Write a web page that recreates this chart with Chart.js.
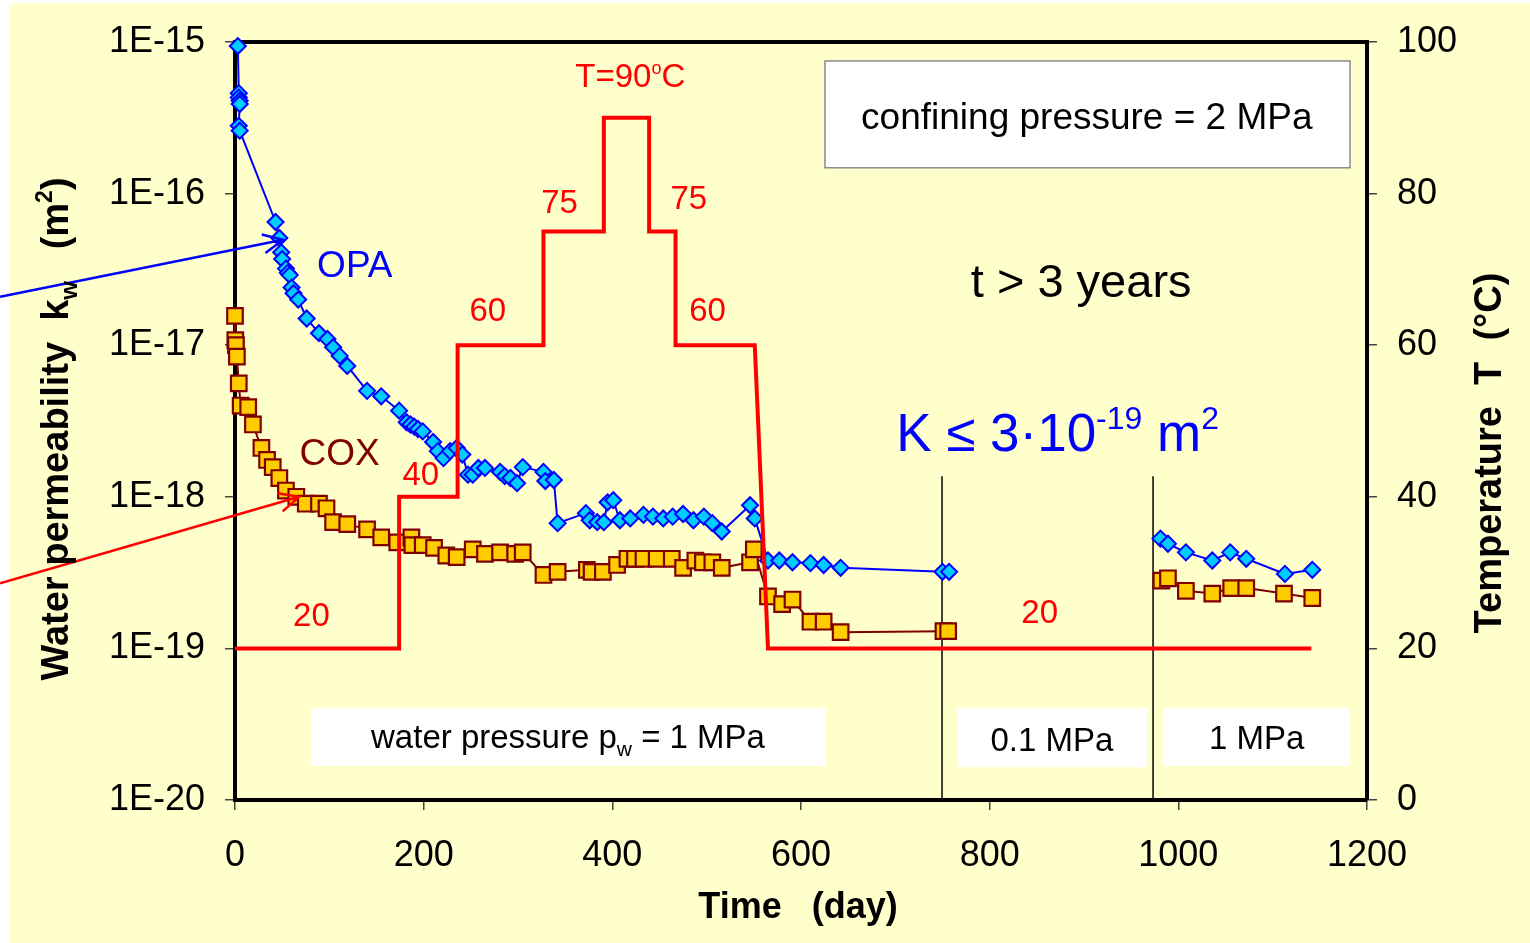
<!DOCTYPE html>
<html>
<head>
<meta charset="utf-8">
<script src="https://cdn.jsdelivr.net/npm/chart.js@4.4.1/dist/chart.umd.min.js"></script>
<style>
  html, body { margin: 0; padding: 0; background: #ffffff; }
  #wrap { width: 1530px; height: 943px; }
</style>
</head>
<body>
<div id="wrap"><canvas id="chart" width="1530" height="943"></canvas></div>
<script>
// Water permeability of OPA and COX samples over time, with the temperature history
const opaDays = [
  3, 4, 4, 5, 5, 4, 5, 43, 47, 49,
  50, 54, 56, 58, 60, 62, 67, 76, 89, 98,
  104, 111, 119, 140, 155, 174, 182, 186, 190, 194,
  199, 210, 215, 221, 228, 235, 241, 247, 252, 258,
  265, 281, 286, 292, 299, 305, 327, 329, 338, 342,
  372, 376, 384, 391, 395, 401, 408, 419, 433, 443,
  454, 464, 475, 486, 497, 506, 516, 546, 551, 565,
  577, 591, 610, 624, 642, 750, 757, 870, 981, 989,
  1008, 1036, 1055, 1072, 1113, 1142,
];
const opaPermeability = [
  9.4e-16, 4.6e-16, 4.3e-16, 4.1e-16, 3.9e-16, 2.8e-16, 2.6e-16, 6.5e-17, 5.1e-17, 4.1e-17,
  3.7e-17, 3.2e-17, 3.0e-17, 2.9e-17, 2.4e-17, 2.2e-17, 2.0e-17, 1.5e-17, 1.2e-17, 1.1e-17,
  9.7e-18, 8.5e-18, 7.3e-18, 5.0e-18, 4.6e-18, 3.7e-18, 3.1e-18, 3.0e-18, 2.9e-18, 2.8e-18,
  2.7e-18, 2.3e-18, 2.0e-18, 1.8e-18, 2.0e-18, 2.1e-18, 1.9e-18, 1.4e-18, 1.4e-18, 1.55e-18,
  1.55e-18, 1.46e-18, 1.37e-18, 1.33e-18, 1.23e-18, 1.57e-18, 1.46e-18, 1.27e-18, 1.29e-18, 6.7e-19,
  7.8e-19, 7.0e-19, 6.8e-19, 6.8e-19, 9.2e-19, 9.5e-19, 7.0e-19, 7.2e-19, 7.6e-19, 7.4e-19,
  7.2e-19, 7.4e-19, 7.7e-19, 7.0e-19, 7.4e-19, 6.7e-19, 5.9e-19, 8.8e-19, 7.2e-19, 3.8e-19,
  3.8e-19, 3.7e-19, 3.65e-19, 3.55e-19, 3.4e-19, 3.2e-19, 3.2e-19, null, 5.3e-19, 4.9e-19,
  4.3e-19, 3.8e-19, 4.3e-19, 3.9e-19, 3.1e-19, 3.3e-19,
];

const coxDays = [
  0, 0.3, 1, 2, 4, 6, 14, 19, 28, 34,
  40, 47, 54, 65, 75, 89, 97, 104, 119, 140,
  155, 172, 187, 188, 199, 211, 224, 235, 252, 265,
  281, 297, 305, 327, 342, 373, 378, 390, 405, 416,
  424, 433, 447, 463, 475, 488, 496, 506, 516, 546,
  550, 565, 580, 591, 610, 624, 642, 751, 756, 870,
  982, 989, 1008, 1036, 1056, 1072, 1112, 1142,
];
const coxPermeability = [
  1.56e-17, 1.08e-17, 1.0e-17, 8.4e-18, 5.6e-18, 4.0e-18, 3.9e-18, 3.0e-18, 2.1e-18, 1.75e-18,
  1.57e-18, 1.33e-18, 1.1e-18, 1.0e-18, 9.0e-19, 9.0e-19, 8.4e-19, 6.8e-19, 6.6e-19, 6.1e-19,
  5.4e-19, 5.0e-19, 5.4e-19, 4.8e-19, 4.8e-19, 4.6e-19, 4.1e-19, 4.0e-19, 4.5e-19, 4.2e-19,
  4.3e-19, 4.2e-19, 4.3e-19, 3.05e-19, 3.2e-19, 3.3e-19, 3.2e-19, 3.2e-19, 3.55e-19, 3.9e-19,
  3.9e-19, 3.9e-19, 3.9e-19, 3.9e-19, 3.4e-19, 3.8e-19, 3.7e-19, 3.7e-19, 3.4e-19, 3.7e-19,
  4.5e-19, 2.2e-19, 1.96e-19, 2.1e-19, 1.5e-19, 1.5e-19, 1.28e-19, 1.3e-19, 1.3e-19, null,
  2.8e-19, 2.9e-19, 2.4e-19, 2.3e-19, 2.5e-19, 2.5e-19, 2.3e-19, 2.15e-19,
];

const tempDays = [0, 174, 174, 236, 236, 327, 327, 391, 391, 439, 439, 467, 467, 551, 565, 1141];
const tempValues = [20, 20, 40, 40, 60, 60, 75, 75, 90, 90, 75, 75, 60, 60, 20, 20];

const permeabilityTicks = [1e-20, 1e-19, 1e-18, 1e-17, 1e-16, 1e-15];
const dayTicks = [0, 200, 400, 600, 800, 1000, 1200];
const tempTicks = [0, 20, 40, 60, 80, 100];

const FONT = '"Liberation Sans", Arial, Helvetica, sans-serif';
const RED = "#ff0000";
const BLUE = "#0000ff";

function toPoints(xs, ys) {
  return xs.map((x, i) => ({ x, y: ys[i] }));
}

function expLabel(value) {
  return "1E" + Math.round(Math.log10(value));
}

// text made of pieces: [text, size factor, baseline shift in em]
function drawRich(ctx, parts, x, y, size, opts = {}) {
  const weight = opts.bold ? "bold " : "";
  const fontFor = (f) => `${weight}${Math.round(size * f)}px ${FONT}`;
  let total = 0;
  const widths = parts.map(([text, f]) => {
    ctx.font = fontFor(f);
    const w = ctx.measureText(text).width;
    total += w;
    return w;
  });
  ctx.save();
  ctx.translate(x, y);
  if (opts.rotate) ctx.rotate(opts.rotate);
  ctx.fillStyle = opts.color || "#000";
  ctx.textAlign = "left";
  ctx.textBaseline = "alphabetic";
  let cx = -total / 2;
  parts.forEach(([text, f, dy], i) => {
    ctx.font = fontFor(f);
    ctx.fillText(text, cx, (dy || 0) * size);
    cx += widths[i];
  });
  ctx.restore();
}

function drawArrow(ctx, x0, y0, x1, y1, color) {
  const a = Math.atan2(y1 - y0, x1 - x0);
  const len = 22;
  const spread = 0.44;
  ctx.save();
  ctx.strokeStyle = color;
  ctx.lineWidth = 2.5;
  ctx.beginPath();
  ctx.moveTo(x0, y0);
  ctx.lineTo(x1, y1);
  ctx.moveTo(x1 - len * Math.cos(a - spread), y1 - len * Math.sin(a - spread));
  ctx.lineTo(x1, y1);
  ctx.lineTo(x1 - len * Math.cos(a + spread), y1 - len * Math.sin(a + spread));
  ctx.stroke();
  ctx.restore();
}

// annotations placed (centred) in (day, temperature) coordinates
const labels = [
  { day: 419, temp: 94.1, size: 33, color: RED, parts: [["T=90", 1], ["o", 0.55, -0.38], ["C", 1]] },
  { day: 344, temp: 77.4, size: 33, color: RED, parts: [["75", 1]] },
  { day: 481, temp: 78.0, size: 33, color: RED, parts: [["75", 1]] },
  { day: 268, temp: 63.2, size: 33, color: RED, parts: [["60", 1]] },
  { day: 501, temp: 63.2, size: 33, color: RED, parts: [["60", 1]] },
  { day: 197, temp: 41.6, size: 33, color: RED, parts: [["40", 1]] },
  { day: 81, temp: 23.0, size: 33, color: RED, parts: [["20", 1]] },
  { day: 853, temp: 23.3, size: 33, color: RED, parts: [["20", 1]] },
  { day: 127, temp: 69.0, size: 37, color: BLUE, parts: [["OPA", 1]] },
  { day: 111, temp: 44.2, size: 37, color: "#800000", parts: [["COX", 1]] },
  { day: 897, temp: 66.4, size: 47, color: "#000", parts: [["t > 3 years", 1]] },
  { day: 872, temp: 46.0, size: 53, color: BLUE, parts: [["K \u2264 3\u00b710", 1], ["-19", 0.6, -0.42], [" m", 1], ["2", 0.6, -0.42]] },
];

const whiteBoxes = [
  { from: 80.6, to: 626.5, top: 12.1, bottom: 4.5, border: false },
  { from: 766.4, to: 966.8, top: 12.1, bottom: 4.35, border: false },
  { from: 983.8, to: 1181, top: 12.1, bottom: 4.5, border: false },
  { from: 625.4, to: 1182, top: 97.5, bottom: 83.4, border: true },
];

const boxLabels = [
  { day: 353, temp: 6.9, size: 33, parts: [["water pressure p", 1], ["w", 0.65, 0.25], [" = 1 MPa", 1]] },
  { day: 866, temp: 6.5, size: 33, parts: [["0.1 MPa", 1]] },
  { day: 1083, temp: 6.7, size: 33, parts: [["1 MPa", 1]] },
  { day: 903, temp: 88.5, size: 37, parts: [["confining pressure = 2 MPa", 1]] },
];

const stageLines = [749.5, 973.2];

const decorations = {
  id: "decorations",
  beforeDraw(chart) {
    const ctx = chart.ctx;
    ctx.save();
    ctx.fillStyle = "#ffffff";
    ctx.fillRect(0, 0, chart.width, chart.height);
    ctx.fillStyle = "#ffffcc";
    ctx.fillRect(9, 3, chart.width - 9, chart.height - 3);
    ctx.restore();
  },
  beforeDatasetsDraw(chart) {
    const ctx = chart.ctx;
    const x = chart.scales.x;
    const t = chart.scales.y1;
    const area = chart.chartArea;
    ctx.save();
    whiteBoxes.forEach((b) => {
      const x0 = x.getPixelForValue(b.from);
      const x1 = x.getPixelForValue(b.to);
      const y0 = t.getPixelForValue(b.top);
      const y1 = t.getPixelForValue(b.bottom);
      ctx.fillStyle = "#ffffff";
      ctx.fillRect(x0, y0, x1 - x0, y1 - y0);
      if (b.border) {
        ctx.strokeStyle = "#6e6e6e";
        ctx.lineWidth = 1.2;
        ctx.strokeRect(x0, y0, x1 - x0, y1 - y0);
      }
    });
    boxLabels.forEach((l) => {
      drawRich(ctx, l.parts, x.getPixelForValue(l.day), t.getPixelForValue(l.temp), l.size, { color: "#000" });
    });
    ctx.strokeStyle = "#000";
    ctx.lineWidth = 1.5;
    stageLines.forEach((d) => {
      const px = x.getPixelForValue(d);
      ctx.beginPath();
      ctx.moveTo(px, t.getPixelForValue(42.7));
      ctx.lineTo(px, area.bottom);
      ctx.stroke();
    });
    // top edge of the plot frame
    ctx.lineWidth = 4;
    ctx.beginPath();
    ctx.moveTo(area.left - 2, area.top);
    ctx.lineTo(area.right + 2, area.top);
    ctx.stroke();
    labels.forEach((l) => {
      drawRich(ctx, l.parts, x.getPixelForValue(l.day), t.getPixelForValue(l.temp), l.size, { color: l.color });
    });
    ctx.restore();
  },
  afterDatasetsDraw(chart) {
    const ctx = chart.ctx;
    const x = chart.scales.x;
    const t = chart.scales.y1;
    drawArrow(ctx, x.getPixelForValue(-249), t.getPixelForValue(66.4), x.getPixelForValue(51), t.getPixelForValue(73.9), BLUE);
    drawArrow(ctx, x.getPixelForValue(-249), t.getPixelForValue(28.6), x.getPixelForValue(68), t.getPixelForValue(40.0), RED);
  },
  afterDraw(chart) {
    const ctx = chart.ctx;
    drawRich(ctx, [["Time   (day)", 1]], 798, 918, 36, { bold: true });
    drawRich(ctx, [["Water permeability  k", 1], ["w", 0.65, 0.25], ["   (m", 1], ["2", 0.62, -0.42], [")", 1]],
      68, 429, 37.5, { bold: true, rotate: -Math.PI / 2 });
    drawRich(ctx, [["Temperature  T  (\u00b0C)", 1]], 1501, 453, 38, { bold: true, rotate: -Math.PI / 2 });
  },
};

const tickFont = { family: FONT, size: 36 };

new Chart(document.getElementById("chart"), {
  type: "line",
  data: {
    datasets: [
      {
        label: "Temperature",
        data: toPoints(tempDays, tempValues),
        yAxisID: "y1",
        borderColor: RED,
        borderWidth: 4,
        pointRadius: 0,
        tension: 0,
        clip: false,
        order: 0,
      },
      {
        label: "OPA",
        data: toPoints(opaDays, opaPermeability),
        yAxisID: "y",
        borderColor: BLUE,
        borderWidth: 2,
        pointStyle: "rectRot",
        pointRadius: 8,
        pointBackgroundColor: "#00ccff",
        pointBorderColor: BLUE,
        pointBorderWidth: 2,
        spanGaps: false,
        tension: 0,
        clip: false,
        order: 1,
      },
      {
        label: "COX",
        data: toPoints(coxDays, coxPermeability),
        yAxisID: "y",
        borderColor: "#800000",
        borderWidth: 2,
        pointStyle: "rect",
        pointRadius: 11,
        pointBackgroundColor: "#ffcc00",
        pointBorderColor: "#800000",
        pointBorderWidth: 2.2,
        spanGaps: false,
        tension: 0,
        clip: false,
        order: 2,
      },
    ],
  },
  options: {
    responsive: false,
    animation: false,
    devicePixelRatio: 1,
    layout: { padding: { top: 42, left: 0, right: 0, bottom: 0 } },
    plugins: {
      legend: { display: false },
      tooltip: { enabled: false },
    },
    scales: {
      x: {
        type: "linear",
        position: "bottom",
        min: 0,
        max: 1200,
        afterBuildTicks: (scale) => { scale.ticks = dayTicks.map((value) => ({ value })); },
        afterFit: (scale) => { scale.height = 143; },
        ticks: { font: tickFont, color: "#000", padding: 24, maxRotation: 0, callback: (value) => String(value) },
        grid: { drawOnChartArea: false, tickLength: 10, color: "#444", lineWidth: 1.5 },
        border: { display: true, color: "#000", width: 4 },
      },
      y: {
        type: "logarithmic",
        position: "left",
        min: 1e-20,
        max: 1e-15,
        afterBuildTicks: (scale) => { scale.ticks = permeabilityTicks.map((value) => ({ value })); },
        afterFit: (scale) => { scale.width = 235; },
        ticks: { font: tickFont, color: "#000", padding: 20, callback: (value) => expLabel(value) },
        grid: { drawOnChartArea: false, tickLength: 10, color: "#444", lineWidth: 1.5 },
        border: { display: true, color: "#000", width: 4 },
      },
      y1: {
        type: "linear",
        position: "right",
        min: 0,
        max: 100,
        afterBuildTicks: (scale) => { scale.ticks = tempTicks.map((value) => ({ value })); },
        afterFit: (scale) => { scale.width = 163; },
        ticks: { font: tickFont, color: "#000", padding: 20, callback: (value) => String(value) },
        grid: { drawOnChartArea: false, tickLength: 10, color: "#444", lineWidth: 1.5 },
        border: { display: true, color: "#000", width: 4 },
      },
    },
  },
  plugins: [decorations],
});
</script>
</body>
</html>
